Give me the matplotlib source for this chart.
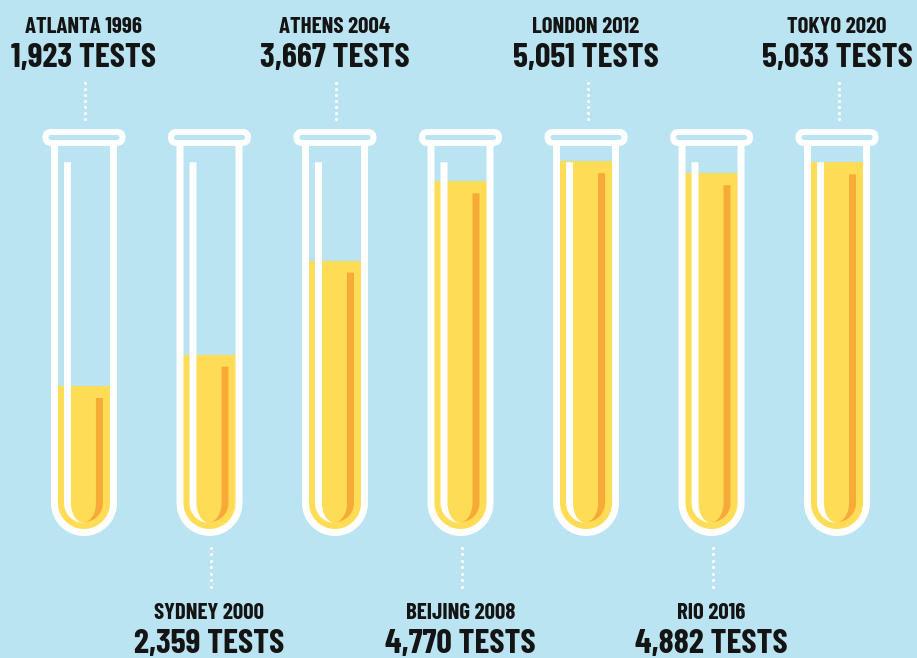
import matplotlib
matplotlib.use("Agg")
import matplotlib.pyplot as plt
import matplotlib.transforms as mtransforms
from matplotlib.path import Path
from matplotlib.patches import PathPatch, FancyBboxPatch
import numpy as np

# data
games = ["ATLANTA 1996", "SYDNEY 2000", "ATHENS 2004", "BEIJING 2008",
         "LONDON 2012", "RIO 2016", "TOKYO 2020"]
tests = [1923, 2359, 3667, 4770, 5051, 4882, 5033]
label_on_top = [True, False, True, False, True, False, True]

BG = "#BAE4F2"
YELLOW = "#FEDC55"
ORANGE = "#F8AA38"
INK = "#141414"
FONT = ["Barlow Condensed", "DejaVu Sans"]

W, H = 917, 658
fig = plt.figure(figsize=(W / 100, H / 100), dpi=100)
fig.patch.set_facecolor(BG)
ax = fig.add_axes([0, 0, 1, 1])
ax.set_facecolor(BG)
ax.set_xlim(-0.669, 6.637)
ax.set_ylim(-1860, 7292)
ax.axis("off")

# tube shapes are in pixels around (tube index, 0 tests)
px = mtransforms.Affine2D().scale(1 / 100) + fig.dpi_scale_trans

C = 21.3       # centre of the bottom arc
TOP = 381.0    # where the walls meet the rim


def arc(cx, cy, rx, ry, a0, a1, n=40):
    t = np.radians(np.linspace(a0, a1, n))
    return np.column_stack([cx + rx * np.cos(t), cy + ry * np.sin(t)])


def closed(pts):
    pts = np.vstack([pts, pts[:1]])
    return Path(pts, closed=True)


def u_shape(half, top):
    return np.vstack([[(-half, top)], arc(0, C, half, half, 180, 360), [(half, top)]])


def crescent(x_out, x_in, top, a0, a1):
    # vertical stripe that bends into a pointed curve at the bottom
    r = abs(x_out)
    outer = arc(0, C, r, r, a0, a1)
    inner = arc(0, C, abs(x_in), r, a1, a0)
    return closed(np.vstack([[(x_out, top)], outer, inner, [(x_in, top)]]))


tlab = mtransforms.blended_transform_factory(ax.transData, ax.transAxes)

for i, (name, v, on_top) in enumerate(zip(games, tests, label_on_top)):
    tr = px + mtransforms.ScaledTranslation(i, 0, ax.transData)

    # liquid as a bar, clipped to the tube body
    body = PathPatch(closed(u_shape(30, TOP)), transform=tr)
    floor = ax.get_ylim()[0]
    bars = ax.bar(i, v - floor, bottom=floor, width=0.6, color=YELLOW,
                  linewidth=0, zorder=1)
    for b in bars:
        b.set_clip_path(body)

    # orange shade starts a bit under the liquid level
    lvl = ax.transData.transform((i, v))[1] - ax.transData.transform((i, 0))[1]
    ax.add_patch(PathPatch(crescent(19, 12, lvl - 12, 0, -90), transform=tr,
                           fc=ORANGE, ec="none", zorder=2))
    # white glass highlight
    ax.add_patch(PathPatch(crescent(-20, -13, 362, 180, 270), transform=tr,
                           fc="white", ec="none", zorder=2))

    # walls and rim
    ax.add_patch(PathPatch(Path(u_shape(29.5, TOP)), transform=tr, fc="none",
                           ec="white", lw=7 * 0.72, capstyle="butt", zorder=3))
    ax.add_patch(FancyBboxPatch((-38.5, 381.3), 77, 11,
                                boxstyle="round,pad=0,rounding_size=5.5",
                                transform=tr, fc=BG, ec="white", lw=6 * 0.72,
                                zorder=4))

    # dotted leader + label
    if on_top:
        dots = 405.3 + 6 * np.arange(7)
        y1, y2 = 1 - 33 / H, 1 - 67 / H
    else:
        dots = -23.7 - 6.5 * np.arange(7)
        y1, y2 = 1 - 619 / H, 1 - 653 / H
    ax.plot(np.full(len(dots), 1.5), dots, "o", ms=2.2, color="white",
            mec="none", transform=tr, zorder=3)
    ax.text(i, y1, name, transform=tlab, ha="center", va="baseline",
            fontsize=16.5, fontweight="bold", color=INK, family=FONT)
    ax.text(i, y2, f"{v:,} TESTS", transform=tlab, ha="center", va="baseline",
            fontsize=24.5, fontweight="bold", color=INK, family=FONT)

fig.savefig("out.png", dpi=100, facecolor=BG)
